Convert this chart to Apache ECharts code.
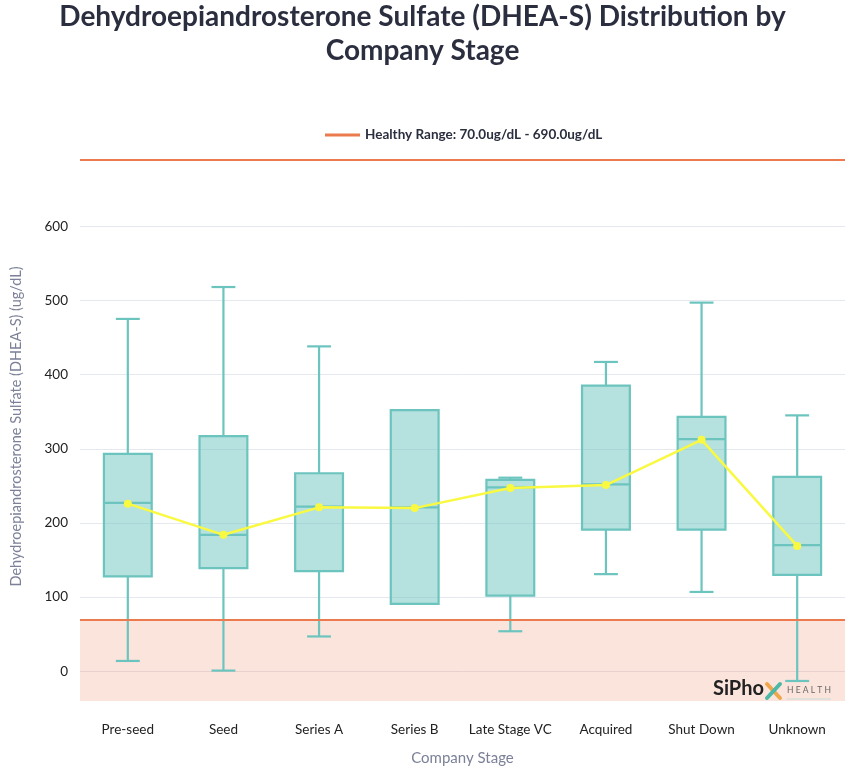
<!DOCTYPE html>
<html>
<head>
<meta charset="utf-8">
<script src="https://cdn.jsdelivr.net/npm/echarts@6/dist/echarts.min.js"></script>
<style>
  html, body { margin: 0; padding: 0; background: #fff; }
  #main { width: 845px; height: 771px; }
</style>
</head>
<body>
<div id="main"></div>
<script>
// company stages on the x axis
const categories = ['Pre-seed', 'Seed', 'Series A', 'Series B', 'Late Stage VC', 'Acquired', 'Shut Down', 'Unknown'];

// box plot values (ug/dL)
const mins    = [14, 1, 47, 91, 54, 131, 107, -13];
const q1s     = [128, 139, 135, 91, 102, 191, 191, 130];
const medians = [227, 184, 222, 221, 248, 252, 313, 170];
const q3s     = [293, 317, 267, 352, 258, 385, 343, 262];
const maxs    = [475, 518, 438, 352, 261, 417, 497, 345];
const means   = [226, 184, 221, 220, 247, 251, 312, 169];

// healthy range, y range and y ticks
const healthyRange = [70, 690];
const yRange = [-40, 700];
const yTicks = [0, 100, 200, 300, 400, 500, 600];

const teal = 'rgb(108,196,190)';
const orange = '#ec7a4f';
const font = 'Lato';
const legendName = 'Healthy Range: ' + healthyRange[0].toFixed(1) + 'ug/dL - ' + healthyRange[1].toFixed(1) + 'ug/dL';

const boxData = categories.map((c, i) => [i, mins[i], q1s[i], medians[i], q3s[i], maxs[i]]);

const renderBox = (params, api) => {
    const x = api.value(0);
    const bw = api.size([1, 0])[0] * 0.5;
    const cap = bw * 0.5;
    const pMin = api.coord([x, api.value(1)]);
    const pQ1 = api.coord([x, api.value(2)]);
    const pMed = api.coord([x, api.value(3)]);
    const pQ3 = api.coord([x, api.value(4)]);
    const pMax = api.coord([x, api.value(5)]);
    const cx = pMed[0];
    const line = { stroke: teal, lineWidth: 2.2 };
    const children = [];
    if (pMax[1] < pQ3[1] - 0.5) {
        children.push({ type: 'line', shape: { x1: cx, y1: pQ3[1], x2: cx, y2: pMax[1] }, style: line });
        children.push({ type: 'line', shape: { x1: cx - cap / 2, y1: pMax[1], x2: cx + cap / 2, y2: pMax[1] }, style: line });
    }
    if (pMin[1] > pQ1[1] + 0.5) {
        children.push({ type: 'line', shape: { x1: cx, y1: pQ1[1], x2: cx, y2: pMin[1] }, style: line });
        children.push({ type: 'line', shape: { x1: cx - cap / 2, y1: pMin[1], x2: cx + cap / 2, y2: pMin[1] }, style: line });
    }
    children.push({
        type: 'rect',
        shape: { x: cx - bw / 2, y: pQ3[1], width: bw, height: pQ1[1] - pQ3[1] },
        style: { fill: 'rgba(108,196,190,0.5)', stroke: teal, lineWidth: 2.2 }
    });
    children.push({ type: 'line', shape: { x1: cx - bw / 2, y1: pMed[1], x2: cx + bw / 2, y2: pMed[1] }, style: line });
    return { type: 'group', children: children };
};

const chart = echarts.init(document.getElementById('main'));

const option = {
    animation: false,
    backgroundColor: '#fff',
    title: {
        text: 'Dehydroepiandrosterone Sulfate (DHEA-S) Distribution by\nCompany Stage',
        left: 'center',
        top: -5,
        textStyle: { fontFamily: font, fontSize: 28, fontWeight: 'bold', color: '#2b2e3f', lineHeight: 34 }
    },
    legend: {
        top: 123,
        left: 320,
        itemWidth: 35,
        itemHeight: 3,
        itemGap: 8,
        data: [{ name: legendName, icon: 'rect' }],
        textStyle: { fontFamily: font, fontSize: 13.5, fontWeight: 'bold', color: '#2b2e3f' }
    },
    grid: { left: 80, top: 152, width: 768, height: 550 },
    xAxis: {
        type: 'category',
        data: categories,
        name: 'Company Stage',
        nameLocation: 'middle',
        nameGap: 50,
        nameTextStyle: { fontFamily: font, fontSize: 15, color: '#7c8098' },
        axisLine: { show: false },
        axisTick: { show: false },
        axisLabel: { interval: 0, fontFamily: font, fontSize: 13.5, color: '#222', margin: 22 },
        splitLine: { show: false }
    },
    yAxis: {
        type: 'value',
        min: yRange[0],
        max: yRange[1],
        name: 'Dehydroepiandrosterone Sulfate (DHEA-S) (ug/dL)',
        nameLocation: 'middle',
        nameGap: 56,
        nameTextStyle: { fontFamily: font, fontSize: 14.5, color: '#7c8098' },
        axisLine: { show: false },
        axisTick: { show: false, customValues: yTicks },
        axisLabel: { customValues: yTicks, fontFamily: font, fontSize: 13.5, color: '#222', margin: 12 },
        splitLine: { show: true, lineStyle: { color: '#e6e8ef', width: 1 } }
    },
    series: [
        {
            name: legendName,
            type: 'line',
            data: [],
            color: orange,
            z: 1,
            markArea: {
                silent: true,
                itemStyle: { color: 'rgba(236,122,79,0.2)' },
                data: [[{ yAxis: yRange[0] }, { yAxis: healthyRange[0] }]]
            },
            markLine: {
                silent: true,
                symbol: 'none',
                label: { show: false },
                lineStyle: { color: orange, width: 2, type: 'solid' },
                data: healthyRange.map(v => ({ yAxis: v }))
            }
        },
        {
            name: 'DHEA-S',
            type: 'custom',
            data: boxData,
            encode: { x: 0, y: [1, 2, 3, 4, 5] },
            renderItem: renderBox,
            z: 3
        },
        {
            name: 'Mean',
            type: 'line',
            data: means,
            symbol: 'circle',
            symbolSize: 8,
            color: '#f9f941',
            lineStyle: { width: 2.5, color: '#f9f941' },
            z: 4
        }
    ],
    graphic: [
        { type: 'text', left: 713, top: 679, style: { text: 'SiPho', fontFamily: font, fontSize: 20, fontWeight: 'bold', fill: '#222' }, z: 10 },
        { type: 'line', shape: { x1: 767, y1: 684, x2: 780, y2: 698 }, style: { stroke: '#f0a64a', lineWidth: 4, lineCap: 'round' }, z: 10 },
        { type: 'line', shape: { x1: 780, y1: 684, x2: 767, y2: 698 }, style: { stroke: '#4cb8a5', lineWidth: 4, lineCap: 'round' }, z: 10 },
        { type: 'text', left: 787, top: 686, style: { text: 'H E A L T H', fontFamily: font, fontSize: 8.5, fill: '#666' }, z: 10 },
        { type: 'line', shape: { x1: 787, y1: 699, x2: 831, y2: 699 }, style: { stroke: '#c9dcd9', lineWidth: 1 }, z: 10 }
    ]
};

chart.setOption(option);
window.addEventListener('resize', () => chart.resize());
</script>
</body>
</html>
